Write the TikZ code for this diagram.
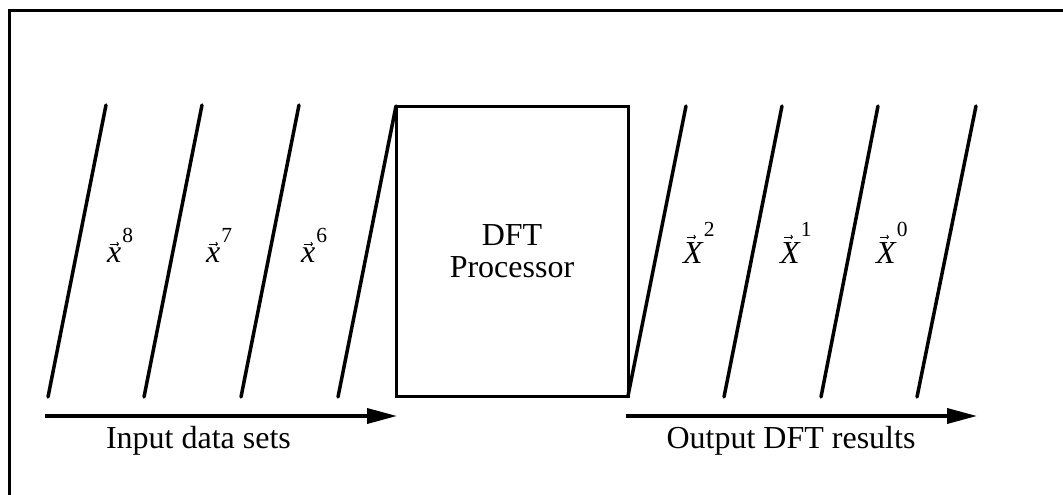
\documentclass[tikz,border=0pt]{standalone}
\usepackage{fontspec}
\setmainfont{Liberation Serif}
\usetikzlibrary{arrows.meta,calc}
\tikzset{
  frameline/.style={line width=3pt},
  slant/.style={line width=3.5pt, line cap=round},
  procbox/.style={draw, line width=3pt, rectangle, minimum width=232pt, minimum height=290pt, inner sep=0pt, outer sep=0pt, align=center},
  flowarrow/.style={line width=3.5pt, -{Triangle[length=30pt,width=15pt]}},
  vecarrow/.style={line width=0.9pt, -{To[length=2.6pt,width=4.5pt]}},
  vlabel/.style={inner sep=0pt, anchor=base west},
  caption/.style={inner sep=0pt, anchor=base},
}
\newcommand{\bigtext}{\fontsize{32}{32.5}\selectfont}
\newcommand{\supfont}{\fontsize{21.5}{21.5}\selectfont}
\newcommand{\inlabel}[1]{\textit{x}\kern1pt\raisebox{19.5pt}{\supfont #1}}
\newcommand{\outlabel}[1]{\textit{X}\raisebox{26.5pt}{\supfont #1}}
\begin{document}
\begin{tikzpicture}[x=1pt,y=-1pt,font=\bigtext]
\useasboundingbox (0,0) rectangle (1063,495);
% outer frame
\coordinate (fbl) at (9,496);
\coordinate (ftl) at (9,11);
\coordinate (ftr) at (1064,11);
\draw[frameline] (fbl) -- (ftl) -- (ftr);
% processor
\node[procbox] (dft) at (512,251) {DFT\\[-1pt]Processor};
% input slanted lines
\coordinate (ib1) at (48,397);  \coordinate (it1) at (106,105);
\coordinate (ib2) at (144,397); \coordinate (it2) at (202,105);
\coordinate (ib3) at (241,397); \coordinate (it3) at (299,105);
\coordinate (ib4) at (338,397);
\draw[slant] (ib1) -- (it1);
\draw[slant] (ib2) -- (it2);
\draw[slant] (ib3) -- (it3);
\draw[slant] (ib4) -- (dft.north west);
% output slanted lines
\coordinate (ot1) at (686,106);
\coordinate (ob2) at (724,397); \coordinate (ot2) at (782,106);
\coordinate (ob3) at (821,397); \coordinate (ot3) at (878,106);
\coordinate (ob4) at (917,397); \coordinate (ot4) at (976,106);
\draw[slant] (dft.south east) -- (ot1);
\draw[slant] (ob2) -- (ot2);
\draw[slant] (ob3) -- (ot3);
\draw[slant] (ob4) -- (ot4);
% labels
\node[vlabel] (x8) at (107,262) {\inlabel{8}};
\node[vlabel] (x7) at (206,262) {\inlabel{7}};
\node[vlabel] (x6) at (301,262) {\inlabel{6}};
\node[vlabel] (X2) at (683,263) {\outlabel{2}};
\node[vlabel] (X1) at (780,263) {\outlabel{1}};
\node[vlabel] (X0) at (876,263) {\outlabel{0}};
% vector arrows over the labels
\foreach \n in {x8,x7,x6}
  \draw[vecarrow] ($(\n.base west)+(3,-18)$) -- ++(9,0);
\foreach \n in {X2,X1,X0}
  \draw[vecarrow] ($(\n.base west)+(4,-26)$) -- ++(9,0);
% arrows
\coordinate (ia0) at (45,416);  \coordinate (ia1) at (397,416);
\coordinate (oa0) at (626,416); \coordinate (oa1) at (977,416);
\draw[flowarrow] (ia0) -- (ia1);
\draw[flowarrow] (oa0) -- (oa1);
\node[caption] (inlab) at (198.5,448) {Input data sets};
\node[caption] (outlab) at (791,448) {Output DFT results};
\end{tikzpicture}
\end{document}
